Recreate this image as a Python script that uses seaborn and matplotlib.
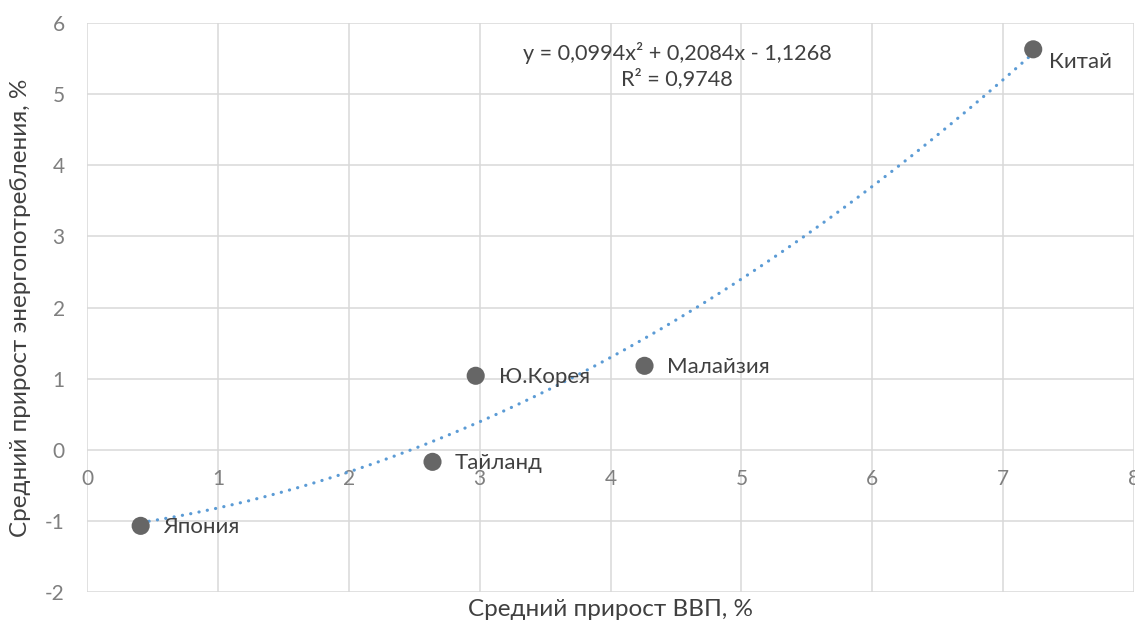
import numpy as np
import pandas as pd
import matplotlib
matplotlib.use("Agg")
import matplotlib.pyplot as plt
import seaborn as sns

# Average GDP growth vs. average energy consumption growth, %
countries = ["Япония", "Тайланд", "Ю.Корея", "Малайзия", "Китай"]
gdp_growth = [0.41, 2.64, 2.97, 4.26, 7.23]
energy_growth = [-1.07, -0.17, 1.04, 1.18, 5.63]

# Polynomial (2nd order) trendline coefficients and fit quality
trend_a, trend_b, trend_c = 0.0994, 0.2084, -1.1268
r_squared = 0.9748

x_ticks = [0, 1, 2, 3, 4, 5, 6, 7, 8]
y_ticks = [-2, -1, 0, 1, 2, 3, 4, 5, 6]

df = pd.DataFrame({"country": countries, "gdp": gdp_growth, "energy": energy_growth})

sns.set_theme(style="white")
plt.rcParams["font.family"] = ["Lato", "Open Sans", "DejaVu Sans"]

fig = plt.figure(figsize=(11.35, 6.24), dpi=100)
ax = fig.add_axes([87 / 1135, 1 - 592 / 624, (1134 - 87) / 1135, (592 - 23) / 624])

grid_color = "#d9d9d9"
tick_color = "#7f7f7f"
text_color = "#404040"

# Trendline y = a*x^2 + b*x + c over the range of the observations
xs = np.linspace(min(gdp_growth), max(gdp_growth), 300)
ys = trend_a * xs ** 2 + trend_b * xs + trend_c
ax.plot(xs, ys, color="#5b9bd5", lw=2.3, linestyle=(0, (0.05, 2.6)),
        dash_capstyle="round", zorder=2)

sns.scatterplot(data=df, x="gdp", y="energy", ax=ax, s=170, color="#666666",
                edgecolor="none", zorder=3, legend=False)

# Point labels
label_offsets = {
    "Япония": (16, -1),
    "Тайланд": (16, -1),
    "Ю.Корея": (17, -1),
    "Малайзия": (16, -1),
    "Китай": (11, -9),
}
for name, gx, ey in zip(countries, gdp_growth, energy_growth):
    dx, dy = label_offsets[name]
    ax.annotate(name, (gx, ey), xytext=(dx, dy), textcoords="offset points",
                ha="left", va="center", fontsize=16, color=text_color, zorder=4)

ax.text(4.51, 5.40,
        f"y = {trend_a:.4f}x² + {trend_b:.4f}x - {abs(trend_c):.4f}\nR² = {r_squared:.4f}".replace(".", ","),
        ha="center", va="center", fontsize=15.6, color=text_color,
        linespacing=1.25, zorder=4)

ax.set_xlim(0, 8)
ax.set_ylim(-2, 6)
ax.set_xticks(x_ticks)
ax.set_yticks(y_ticks)
ax.set_xticklabels([str(t) for t in x_ticks])
ax.set_yticklabels([str(t) for t in y_ticks])

ax.grid(True, color=grid_color, linewidth=1.1)
ax.set_axisbelow(True)
for side in ["top", "right", "left", "bottom"]:
    ax.spines[side].set_visible(False)

# Category axis crosses at y = 0
ax.spines["bottom"].set_position(("data", 0))
ax.tick_params(axis="x", length=0, pad=14, labelsize=15, labelcolor=tick_color)
ax.tick_params(axis="y", length=0, pad=16, labelsize=15, labelcolor=tick_color)

ax.set_xlabel("Средний прирост ВВП, %", fontsize=17.5, color=text_color)
ax.set_ylabel("Средний прирост энергопотребления, %", fontsize=17.5, color=text_color)
ax.xaxis.set_label_coords(0.5, -0.012)
ax.yaxis.set_label_coords(-0.0535, 0.5)

fig.savefig("out.png", dpi=100)
